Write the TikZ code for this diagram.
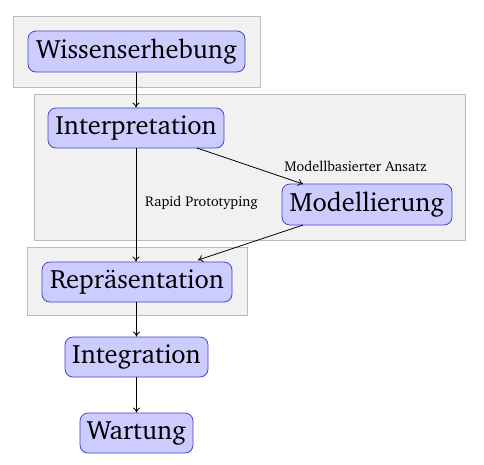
\documentclass[tikz,border=0pt]{standalone}
\usepackage[T1]{fontenc}
\usepackage{charter}
\usetikzlibrary{arrows.meta}
\definecolor{nodefill}{HTML}{CCCCFF}
\definecolor{nodeline}{HTML}{4545C8}
\definecolor{grpfill}{HTML}{F1F1F1}
\definecolor{grpline}{HTML}{BBBBBB}
\tikzset{
  phase/.style={draw=nodeline, fill=nodefill, rounded corners=8pt, line width=0.8pt,
    inner sep=0pt, font=\fontsize{26.5}{30}\selectfont, text height=18.5pt, text depth=5.5pt},
  grp/.style={draw=grpline, fill=grpfill, line width=0.8pt},
  conn/.style={-{To[length=5pt,width=7pt]}, line width=0.8pt},
  lbl/.style={font=\fontsize{14.2}{16}\selectfont, inner sep=0pt}
}
\begin{document}
\begin{tikzpicture}[x=1pt,y=-1pt]
\useasboundingbox (0,0) rectangle (484,464);
% groups
\draw[grp] (13,16) rectangle (260,87);
\draw[grp] (34,94) rectangle (465,240);
\draw[grp] (27,247) rectangle (247,315);
% phases
\node[phase, minimum width=217pt, minimum height=41pt] (wiss) at (136.5,51.5) {Wissenserhebung};
\node[phase, minimum width=176pt, minimum height=40pt] (interp) at (136,128) {Interpretation};
\node[phase, minimum width=170pt, minimum height=41pt] (model) at (367,204.5) {Modellierung};
\node[phase, minimum width=190pt, minimum height=40pt] (repr) at (137,282) {Repr\"asentation};
\node[phase, minimum width=143pt, minimum height=40pt] (integ) at (136.5,357) {Integration};
\node[phase, minimum width=113pt, minimum height=40pt] (wart) at (136.5,433) {Wartung};
% labels
\node[lbl] (lma) at (355.5,166) {Modellbasierter Ansatz};
\node[lbl] (lrp) at (201.5,203) {Rapid Prototyping};
% connectors
\coordinate (imo) at (197,148);
\coordinate (mti) at (303,184);
\coordinate (mfr) at (303,225);
\coordinate (rto) at (198,260);
\draw[conn] (wiss.south -| interp.north) -- (interp.north);
\draw[conn] (interp.south) -- (repr.north -| interp.south);
\draw[conn] (imo) -- (mti);
\draw[conn] (mfr) -- (rto);
\draw[conn] (repr.south -| integ.north) -- (integ.north);
\draw[conn] (integ.south) -- (wart.north);
\end{tikzpicture}
\end{document}
